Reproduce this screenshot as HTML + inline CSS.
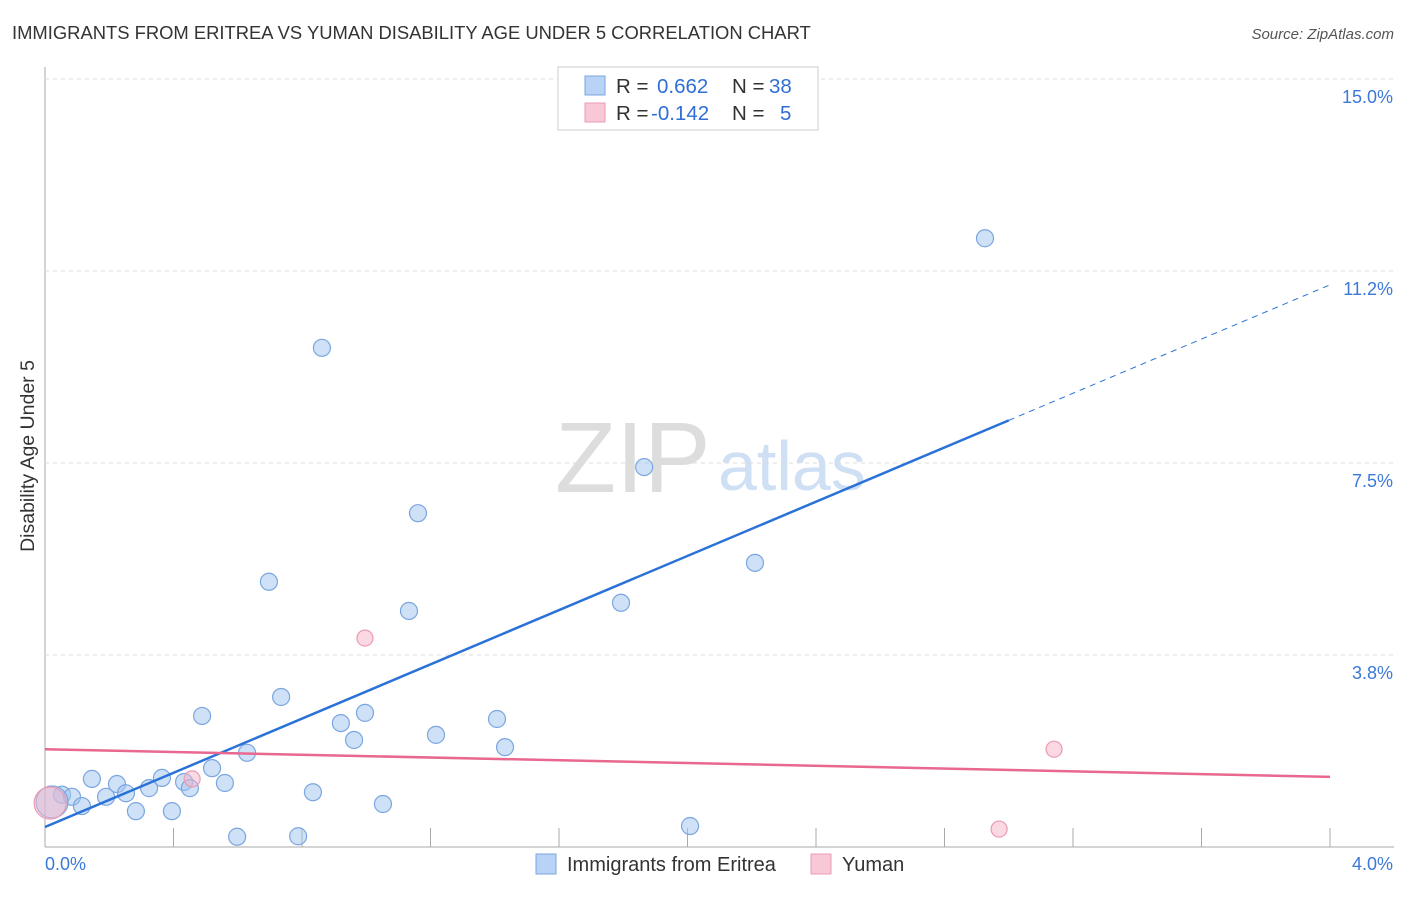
<!DOCTYPE html>
<html><head><meta charset="utf-8"><style>
body{margin:0;background:#fff;font-family:"Liberation Sans",sans-serif}
svg text{font-family:"Liberation Sans",sans-serif}
</style></head><body>
<svg id="c" width="1406" height="892">
<text x="12" y="39" font-size="18.4" fill="#333">IMMIGRANTS FROM ERITREA VS YUMAN DISABILITY AGE UNDER 5 CORRELATION CHART</text>
<text x="1394" y="39" font-size="15" fill="#555" font-style="italic" text-anchor="end">Source: ZipAtlas.com</text>
<text transform="translate(34,456) rotate(-90)" font-size="19.5" fill="#333" text-anchor="middle">Disability Age Under 5</text>
<text x="555" y="492" font-size="100" fill="#ddd" font-family="Liberation Serif">ZIP</text>
<text x="718" y="490" font-size="70" fill="#cfe0f5">atlas</text>
<g id="grid"></g><g id="pts"></g><g id="trend"></g>
<g>
<rect x="558" y="67" width="260" height="63" fill="#fff" stroke="#ccc"/>
<rect x="585" y="76" width="20" height="19" fill="#b8d3f5" stroke="#7aa6e0"/>
<rect x="585" y="103" width="20" height="19" fill="#f9c8d6" stroke="#eb9ab3"/>
<text x="616" y="93" font-size="20.5" fill="#333">R = <tspan x="657" fill="#2f6fd6">0.662</tspan><tspan x="732">N = </tspan><tspan x="769" fill="#2f6fd6">38</tspan></text>
<text x="616" y="120" font-size="20.5" fill="#333">R = <tspan x="651" fill="#2f6fd6">-0.142</tspan><tspan x="732">N = </tspan><tspan x="780" fill="#2f6fd6">5</tspan></text>
</g>
<g>
<rect x="536" y="854" width="20" height="20" fill="#b8d3f5" stroke="#7aa6e0"/>
<text x="567" y="871" font-size="20" fill="#333">Immigrants from Eritrea</text>
<rect x="811" y="854" width="20" height="20" fill="#f9c8d6" stroke="#eb9ab3"/>
<text x="842" y="871" font-size="20" fill="#333">Yuman</text>
</g>
</svg>
<script>
const blueX=[0.053,0.084,0.115,0.146,0.19,0.224,0.252,0.283,0.324,0.364,0.395,0.433,0.451,0.489,0.52,0.56,0.598,0.629,0.697,0.735,0.788,0.834,0.862,0.921,0.962,0.996,1.052,1.133,1.161,1.217,1.407,1.432,1.793,1.865,2.008,2.21,2.926,0.022];
const blueY=[1.02,0.98,0.80,1.33,0.98,1.23,1.05,0.70,1.15,1.35,0.70,1.27,1.15,2.56,1.54,1.25,0.20,1.84,5.18,2.93,0.21,1.07,9.75,2.42,2.09,2.62,0.84,4.61,6.52,2.19,2.50,1.95,4.77,7.42,0.41,5.55,11.89,0.88];
const pinkX=[0.016,0.458,0.996,3.141,2.97];
const pinkY=[0.86,1.33,4.08,1.91,0.35];
const yTicks=[3.75,7.5,11.25,15];
const yTickLabels=["3.8%","7.5%","11.2%","15.0%"];
const xTicks=[0.4,0.8,1.2,1.6,2.0,2.4,2.8,3.2,3.6,4.0];
const blueTrend=[0.39,10.98];
const pinkTrend=[1.91,1.37];
const X=v=>45+321.25*v, Y=v=>847-51.2*v;
const NS="http://www.w3.org/2000/svg";
function mk(t,a,p){const e=document.createElementNS(NS,t);for(const k in a)e.setAttribute(k,a[k]);p.appendChild(e);return e;}
const g=document.getElementById('grid');
let ax=mk('line',{x1:45,y1:67,x2:45,y2:847,stroke:'#aaa'},g);


let bx=mk('line',{x1:45,y1:847,x2:1394,y2:847,stroke:'#aaa'},g);


yTicks.forEach((v,i)=>{
 const l=mk('line',{x1:45,y1:Y(v),x2:1394,y2:Y(v),stroke:'#ddd','stroke-dasharray':'4,4'},g);
 
 
 const t=mk('text',{x:1393,y:Y(v)+24,'font-size':18,fill:'#3b78d8','text-anchor':'end'},g);
 t.textContent=yTickLabels[i];
 
 
});
xTicks.forEach(v=>{
 const l=mk('line',{x1:X(v),y1:828,x2:X(v),y2:847,stroke:'#aaa'},g);
 
 
});
let t0=mk('text',{x:45,y:870,'font-size':18,fill:'#3b78d8'},g);t0.textContent='0.0%';


let t1=mk('text',{x:1393,y:870,'font-size':18,fill:'#3b78d8','text-anchor':'end'},g);t1.textContent='4.0%';


const p=document.getElementById('pts');
blueX.forEach((x,i)=>{
 const big=i===blueX.length-1;
 const c=mk('circle',{cx:X(x),cy:Y(blueY[i]),r:big?16:8.5,fill:'rgba(160,196,240,0.5)',stroke:'#7aa6e0','stroke-width':1.2},p);
 
 
});
pinkX.forEach((x,i)=>{
 const c=mk('circle',{cx:X(x),cy:Y(pinkY[i]),r:i===0?16:8,fill:'rgba(245,180,200,0.5)',stroke:'#eb9ab3','stroke-width':1.2},p);
 
 
});
const tr=document.getElementById('trend');
const bAt=v=>blueTrend[0]+(blueTrend[1]-blueTrend[0])*v/4;
let l1=mk('line',{x1:X(0),y1:Y(bAt(0)),x2:X(3.0),y2:Y(bAt(3.0)),stroke:'#2a72d8','stroke-width':2.5},tr);


let l2=mk('line',{x1:X(3.0),y1:Y(bAt(3.0)),x2:X(4),y2:Y(bAt(4)),stroke:'#2a72d8','stroke-width':1,'stroke-dasharray':'6,5'},tr);


let l3=mk('line',{x1:X(0),y1:Y(pinkTrend[0]),x2:X(4),y2:Y(pinkTrend[1]),stroke:'#e8688f','stroke-width':2.5},tr);


</script>
</body></html>
